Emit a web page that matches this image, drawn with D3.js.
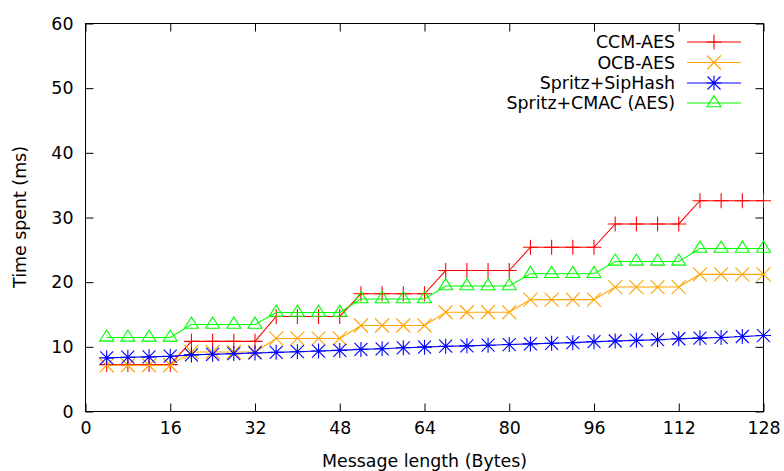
<!DOCTYPE html>
<html>
<head>
<meta charset="utf-8">
<script src="https://cdn.jsdelivr.net/npm/d3@7"></script>
<style>
html,body{margin:0;padding:0;background:#fff;}
svg{display:block;}
text{font-family:"DejaVu Sans",sans-serif;fill:#000;}
</style>
</head>
<body>
<svg id="chart" width="784" height="471"></svg>
<script>
// ---- data ----
const lengths = [4,8,12,16,20,24,28,32,36,40,44,48,52,56,60,64,68,72,76,80,84,88,92,96,100,104,108,112,116,120,124,128];
const ccmAes = [7.25,7.25,7.25,7.25,10.85,10.85,10.85,10.85,14.7,14.7,14.7,14.7,18.2,18.2,18.2,18.2,21.8,21.8,21.8,21.8,25.4,25.4,25.4,25.4,29.0,29.0,29.0,29.0,32.6,32.6,32.6,32.6];
const ocbAes = [7.15,7.15,7.15,7.15,9.2,9.2,9.2,9.2,11.3,11.3,11.3,11.3,13.3,13.3,13.3,13.3,15.35,15.35,15.35,15.35,17.3,17.3,17.3,17.3,19.25,19.25,19.25,19.25,21.2,21.2,21.2,21.2];
const spritzSip = [8.3,8.4,8.45,8.55,8.75,8.85,8.95,9.05,9.15,9.25,9.35,9.45,9.6,9.7,9.85,9.95,10.1,10.15,10.25,10.35,10.45,10.55,10.65,10.8,10.9,11.0,11.1,11.25,11.35,11.45,11.6,11.75];
const spritzCmac = [11.45,11.45,11.45,11.45,13.45,13.45,13.45,13.45,15.3,15.3,15.3,15.3,17.4,17.4,17.4,17.4,19.4,19.4,19.4,19.4,21.3,21.3,21.3,21.3,23.2,23.2,23.2,23.2,25.2,25.2,25.2,25.2];
const seriesNames = ["CCM-AES","OCB-AES","Spritz+SipHash","Spritz+CMAC (AES)"];
const seriesColors = ["#ff0000","#ffa500","#0000ff","#00ff00"];
const seriesMarkers = ["plus","cross","star","triangle"];
const xTicks = [0,16,32,48,64,80,96,112,128];
const yTicks = [0,10,20,30,40,50,60];
const xLabel = "Message length (Bytes)";
const yLabel = "Time spent (ms)";

const seriesValues = [ccmAes, ocbAes, spritzSip, spritzCmac];

// ---- layout ----
const L = 85.5, R = 763.5, T = 23.5, B = 411.5;
const svg = d3.select("#chart");
const x = d3.scaleLinear().domain([0,128]).range([L,R]);
const y = d3.scaleLinear().domain([0,60]).range([B,T]);
const FS = 17.4;
const tickLen = 8;

const markerPath = {
  plus: "M-7.5,0H7.5M0,-7.5V7.5",
  cross: "M-7,-7L7,7M-7,7L7,-7",
  star: "M-7.5,0H7.5M0,-7.5V7.5M-6.5,-6.5L6.5,6.5M-6.5,6.5L6.5,-6.5",
  triangle: "M0,-7.4L7,3.7L-7,3.7Z"
};

// ticks (bottom, top, left, right), inward
const axB = svg.append("g").attr("transform",`translate(0,${B})`)
  .call(d3.axisBottom(x).tickValues(xTicks).tickSize(-tickLen).tickPadding(10).tickFormat(d3.format("d")));
const axT = svg.append("g").attr("transform",`translate(0,${T})`)
  .call(d3.axisTop(x).tickValues(xTicks).tickSize(-tickLen).tickFormat(""));
const axL = svg.append("g").attr("transform",`translate(${L},0)`)
  .call(d3.axisLeft(y).tickValues(yTicks).tickSize(-tickLen).tickPadding(12).tickFormat(d3.format("d")));
const axR = svg.append("g").attr("transform",`translate(${R},0)`)
  .call(d3.axisRight(y).tickValues(yTicks).tickSize(-tickLen).tickFormat(""));
[axB,axT,axL,axR].forEach(a=>{
  a.select(".domain").remove();
  a.selectAll("line").attr("stroke","#000").attr("stroke-width",1);
  a.selectAll("text").attr("font-family","DejaVu Sans").attr("font-size",FS).attr("fill","#000");
});
axB.selectAll("text").attr("dy","0.71em");

// border
svg.append("rect").attr("x",L).attr("y",T).attr("width",R-L).attr("height",B-T)
  .attr("fill","none").attr("stroke","#000").attr("stroke-width",1);

// axis labels
svg.append("text").attr("x",(L+R)/2).attr("y",467).attr("text-anchor","middle")
  .attr("font-size",FS).text(xLabel);
svg.append("text").attr("transform",`translate(26,217) rotate(-90)`).attr("text-anchor","middle")
  .attr("font-size",FS).text(yLabel);

// series
const line = d3.line().x(d=>x(d[0])).y(d=>y(d[1]));
seriesValues.forEach((vals,i)=>{
  const pts = lengths.map((l,j)=>[l,vals[j]]);
  const g = svg.append("g");
  g.append("path").attr("d",line(pts)).attr("fill","none")
    .attr("stroke",seriesColors[i]).attr("stroke-width",1.1);
  g.selectAll("path.m").data(pts).enter().append("path").attr("class","m")
    .attr("transform",d=>`translate(${x(d[0])},${y(d[1])})`)
    .attr("d",markerPath[seriesMarkers[i]])
    .attr("fill","none").attr("stroke",seriesColors[i]).attr("stroke-width",1.1);
});

// legend
const legY = [42,62.5,83,103];
seriesNames.forEach((n,i)=>{
  const g = svg.append("g");
  g.append("text").attr("x",675).attr("y",legY[i]).attr("dy","0.35em")
    .attr("text-anchor","end").attr("font-size",FS).text(n);
  g.append("line").attr("x1",687).attr("x2",741).attr("y1",legY[i]).attr("y2",legY[i])
    .attr("stroke",seriesColors[i]).attr("stroke-width",1.1);
  g.append("path").attr("transform",`translate(714,${legY[i]})`)
    .attr("d",markerPath[seriesMarkers[i]]).attr("fill","none")
    .attr("stroke",seriesColors[i]).attr("stroke-width",1.1);
});
</script>
</body>
</html>
